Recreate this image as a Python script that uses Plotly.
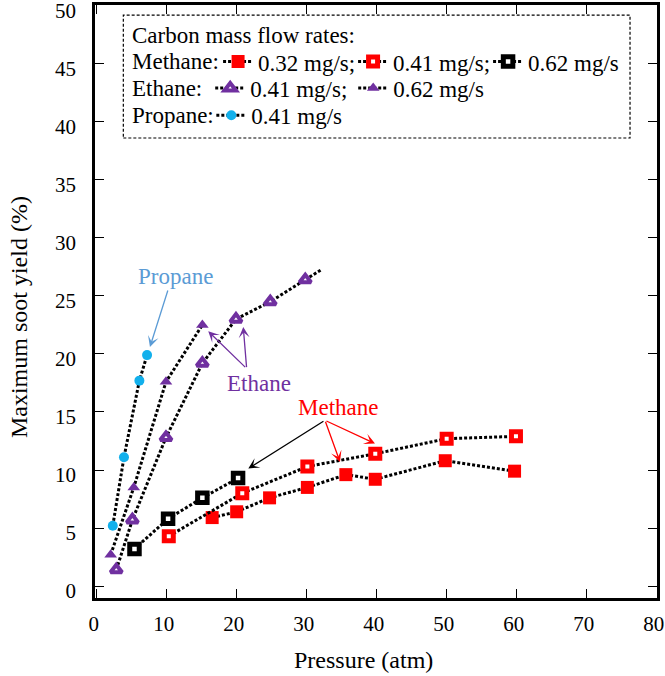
import plotly.graph_objects as go

# Maximum soot yield vs pressure for several fuels / carbon mass flow rates
methane_032_p = [16.5, 20.0, 24.7, 30.1, 35.6, 39.8, 49.8, 59.7]
methane_032_y = [5.9, 6.4, 7.6, 8.5, 9.6, 9.2, 10.8, 9.9]
methane_041_p = [10.3, 20.8, 30.1, 39.8, 50.0, 59.9]
methane_041_y = [4.3, 8.0, 10.3, 11.4, 12.7, 12.9]
methane_062_p = [5.4, 10.2, 15.1, 20.2]
methane_062_y = [3.2, 5.8, 7.6, 9.3]
ethane_041_p = [2.8, 5.1, 9.9, 15.1, 19.9, 24.8, 29.8]
ethane_041_y = [1.4, 5.7, 12.8, 19.2, 23.0, 24.5, 26.4]
ethane_041_trend_p = [29.8, 32.2]
ethane_041_trend_y = [26.4, 27.3]
ethane_062_p = [2.0, 5.3, 9.9, 15.1]
ethane_062_y = [2.7, 8.5, 17.6, 22.5]
propane_041_p = [2.3, 3.9, 6.1, 7.2]
propane_041_y = [5.2, 11.1, 17.7, 19.9]

x_ticks = [0, 10, 20, 30, 40, 50, 60, 70, 80]
y_ticks = [0, 5, 10, 15, 20, 25, 30, 35, 40, 45, 50]

SERIF = "Liberation Serif, Times New Roman, serif"
RED = "#ff0000"
PURPLE = "#7030a0"
CYAN = "#12b0ec"
LIGHTBLUE = "#5b9bd5"
DOT = dict(color="black", width=3, dash="3px,2px")

fig = go.Figure()

# dotted extension of the ethane 0.41 mg/s curve
fig.add_trace(go.Scatter(x=ethane_041_trend_p, y=ethane_041_trend_y, mode="lines",
                         line=DOT, showlegend=False, hoverinfo="skip"))

series = [
    # (x, y, label, legend, marker)
    (methane_032_p, methane_032_y, "0.32 mg/s;", "legend",
     dict(symbol="square", size=13, color=RED, line=dict(width=0))),
    (methane_041_p, methane_041_y, "0.41 mg/s;", "legend",
     dict(symbol="square", size=9, color="white", line=dict(color=RED, width=5))),
    (methane_062_p, methane_062_y, "0.62 mg/s", "legend",
     dict(symbol="square", size=9.5, color="white", line=dict(color="black", width=5))),
    (ethane_041_p, ethane_041_y, "0.41 mg/s;", "legend2",
     dict(symbol="triangle-up", size=10, color="white", line=dict(color=PURPLE, width=4))),
    (ethane_062_p, ethane_062_y, "0.62 mg/s", "legend2",
     dict(symbol="triangle-up", size=11, color=PURPLE, line=dict(width=0))),
    (propane_041_p, propane_041_y, "0.41 mg/s", "legend3",
     dict(symbol="circle", size=10, color=CYAN, line=dict(width=0))),
]
for xs, ys, name, leg, mk in series:
    fig.add_trace(go.Scatter(x=xs, y=ys, mode="lines+markers", name=name,
                             legend=leg, line=DOT, marker=mk))

font_leg = dict(family=SERIF, size=23, color="black")

ROW_Y = {"Methane:": 0.9046, "Ethane:": 0.860, "Propane:": 0.814}


def row_legend(ypaper, x, entrywidth):
    return dict(orientation="h", x=x, xanchor="left", y=ypaper, yanchor="middle",
                font=font_leg, bgcolor="rgba(0,0,0,0)", borderwidth=0,
                itemwidth=30, traceorder="normal",
                entrywidth=entrywidth, entrywidthmode="pixels")


annotations = [
    dict(text="Carbon mass flow rates:", xref="paper", yref="paper", x=0.0623, y=0.949,
         xanchor="left", yanchor="middle", showarrow=False, font=font_leg),
]
for label, yy in ROW_Y.items():
    annotations.append(dict(text=label, xref="paper", yref="paper", x=0.0623, y=yy,
                            xanchor="left", yanchor="middle", showarrow=False,
                            font=font_leg))

annotations += [
    dict(text="Propane", x=11.26, y=26.7, showarrow=False,
         font=dict(family=SERIF, size=23, color=LIGHTBLUE)),
    dict(text="Ethane", x=23.2, y=17.45, showarrow=False,
         font=dict(family=SERIF, size=23, color=PURPLE)),
    dict(text="Methane", x=34.5, y=15.4, showarrow=False,
         font=dict(family=SERIF, size=23, color=RED)),
]

arrows = [
    # (tail x, tail y, tip x, tip y, colour)
    (10.23, 25.6, 7.61, 20.6, LIGHTBLUE),
    (21.43, 18.74, 15.94, 21.96, PURPLE),
    (21.43, 18.74, 20.94, 22.33, PURPLE),
    (32.61, 14.28, 21.66, 10.12, "black"),
    (32.61, 14.28, 34.76, 10.69, RED),
    (32.61, 14.28, 39.76, 12.28, RED),
]
for ax, ay, x, y, c in arrows:
    annotations.append(dict(text="", x=x, y=y, ax=ax, ay=ay, axref="x", ayref="y",
                            xref="x", yref="y", showarrow=True, arrowhead=3,
                            arrowsize=1.4, arrowwidth=1.3, arrowcolor=c,
                            standoff=0, startstandoff=0))

# axis titles
annotations += [
    dict(text="Pressure (atm)", xref="paper", yref="paper", x=0.478, y=-0.105,
         xanchor="center", yanchor="middle", showarrow=False,
         font=dict(family=SERIF, size=24, color="black")),
    dict(text="Maximum soot yield (%)", xref="paper", yref="paper", x=-0.135, y=0.474,
         xanchor="center", yanchor="middle", textangle=-90, showarrow=False,
         font=dict(family=SERIF, size=24, color="black")),
]

axis_common = dict(showline=True, linecolor="black", linewidth=2.5, mirror="ticks",
                   ticks="inside", ticklen=9, tickwidth=1.3, tickcolor="black",
                   showgrid=False, zeroline=False, ticklabeloverflow="allow",
                   automargin=False,
                   tickfont=dict(family=SERIF, size=21, color="black"))

fig.update_layout(
    width=665, height=676,
    margin=dict(l=95, r=8, t=5, b=78, autoexpand=False),
    paper_bgcolor="white", plot_bgcolor="white",
    xaxis=dict(range=[-0.24, 80.05], tickvals=x_ticks, ticklabelstandoff=5,
               ticklabelshift=-3, **axis_common),
    yaxis=dict(range=[-1.03, 50.07], tickvals=y_ticks, ticklabelstandoff=12,
               ticklabelshift=5, **axis_common),
    legend=row_legend(ROW_Y["Methane:"], 0.219, 90),
    legend2=row_legend(ROW_Y["Ethane:"], 0.205, 98),
    legend3=row_legend(ROW_Y["Propane:"], 0.207, 98),
    annotations=annotations,
    shapes=[dict(type="rect", xref="paper", yref="paper", x0=0.0504, x1=0.952,
                 y0=0.7757, y1=0.983, line=dict(color="black", width=1.2, dash="3px,2px"),
                 fillcolor="rgba(0,0,0,0)", layer="above")],
)

fig.write_html("out.html")
